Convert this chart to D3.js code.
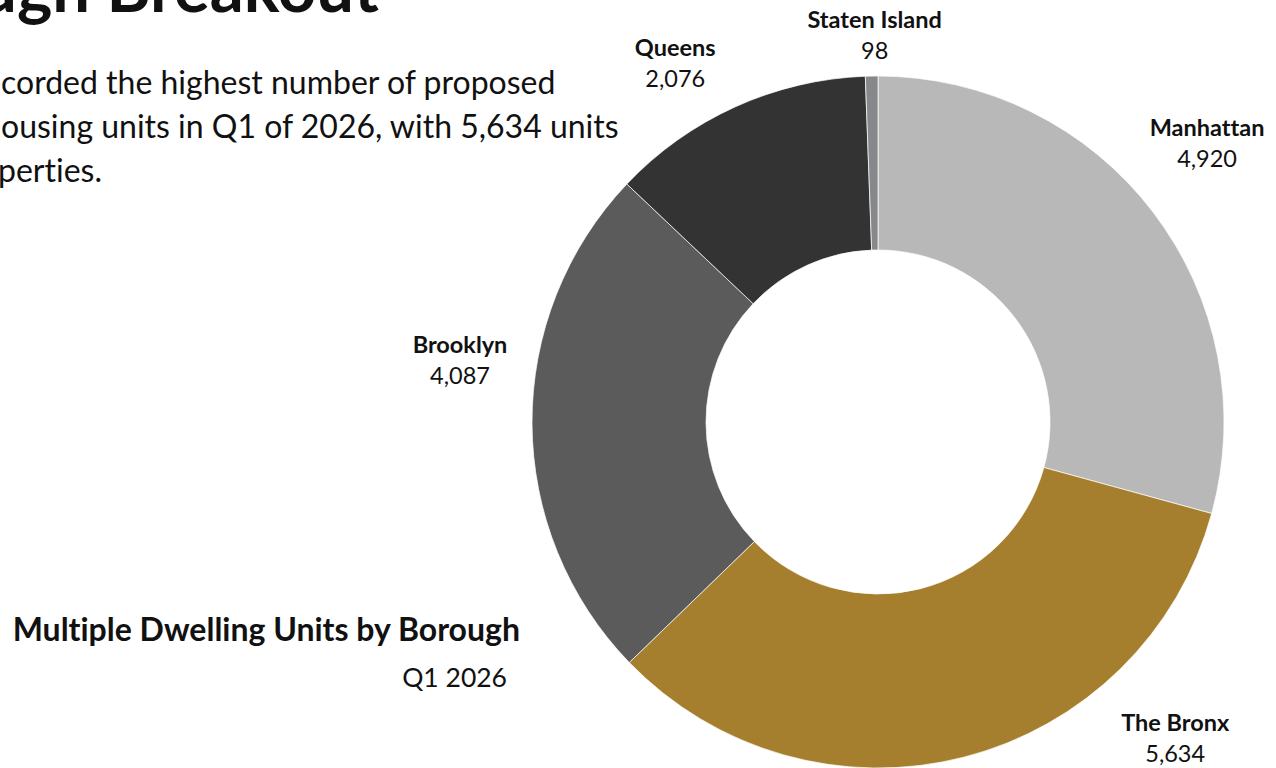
<!DOCTYPE html>
<html>
<head>
<meta charset="utf-8">
<script src="https://cdn.jsdelivr.net/npm/d3@7"></script>
<style>
  html, body { margin: 0; padding: 0; background: #ffffff; overflow: hidden; }
  svg { display: block; font-family: Lato, "Open Sans", sans-serif; font-variant-ligatures: none; }
</style>
</head>
<body>
<svg id="chart" width="1276" height="768"></svg>
<script>
// ---- data ----
const boroughs = ["Manhattan", "The Bronx", "Brooklyn", "Queens", "Staten Island"];
const units = [4920, 5634, 4087, 2076, 98];
const sliceColors = ["#b7b8b7", "#a67f2e", "#5b5b5b", "#333333", "#86888b"];
const pageTitle = "Borough Breakout";
const introLines = [
  ["The Bronx re", "corded the highest number of proposed"],
  ["multifamily h", "ousing units in Q1 of 2026, with 5,634 units"],
  ["across multiple pro", "perties."]
];
const chartTitle = "Multiple Dwelling Units by Borough";
const chartSubtitle = "Q1 2026";

// ---- layout ----
const svg = d3.select("#chart");
const cx = 878, cy = 422, outerR = 346, innerR = 172;
const labelR = 400;
// label nudges (dx, dy of name baseline) relative to outer-arc centroid
const labelNudge = {
  "Manhattan": [11, -43],
  "The Bronx": [198, -79],
  "Brooklyn": [-18, -71],
  "Queens": [-38, -1],
  "Staten Island": [4, 6]
};

const data = boroughs.map((b, i) => ({ name: b, value: units[i], color: sliceColors[i] }));
const pie = d3.pie().value(d => d.value).sort(null).startAngle(0).endAngle(2 * Math.PI);
const arcs = pie(data);
const arc = d3.arc().innerRadius(innerR).outerRadius(outerR);
const labelArc = d3.arc().innerRadius(labelR).outerRadius(labelR);

const g = svg.append("g").attr("transform", `translate(${cx},${cy})`);
g.selectAll("path.slice")
  .data(arcs)
  .join("path")
  .attr("class", "slice")
  .attr("d", arc)
  .attr("fill", d => d.data.color)
  .attr("stroke", "#ffffff")
  .attr("stroke-width", 0.7);

const fmt = d3.format(",");
const lab = g.selectAll("g.lab")
  .data(arcs)
  .join("g")
  .attr("class", "lab")
  .attr("transform", d => {
    const [x, y] = labelArc.centroid(d);
    const n = labelNudge[d.data.name];
    return `translate(${x + n[0]},${y + n[1]})`;
  });
lab.append("text")
  .attr("text-anchor", "middle")
  .attr("font-weight", 700)
  .attr("font-size", 23.5)
  .attr("fill", "#111111")
  .text(d => d.data.name);
lab.append("text")
  .attr("text-anchor", "middle")
  .attr("y", 31)
  .attr("font-size", 23.5)
  .attr("fill", "#111111")
  .text(d => fmt(d.data.value));

// ---- page title & intro (partially off-canvas on the left) ----
svg.append("text")
  .attr("x", 379)
  .attr("y", 12)
  .attr("text-anchor", "end")
  .attr("font-weight", 700)
  .attr("font-size", 67)
  .attr("fill", "#111111")
  .text(pageTitle);

const introStarts = [1, 1, -2];
const introBase = [94, 138, 182];
introLines.forEach((parts, i) => {
  const t = svg.append("text")
    .attr("y", introBase[i])
    .attr("font-size", 32)
    .attr("fill", "#111111");
  const pre = t.append("tspan").text(parts[0]);
  t.append("tspan").text(parts[1]);
  const w = pre.node().getComputedTextLength();
  t.attr("x", introStarts[i] - w);
});

// ---- chart title ----
svg.append("text")
  .attr("x", 520)
  .attr("y", 641)
  .attr("text-anchor", "end")
  .attr("font-weight", 700)
  .attr("font-size", 32)
  .attr("fill", "#111111")
  .text(chartTitle);
svg.append("text")
  .attr("x", 507)
  .attr("y", 687)
  .attr("text-anchor", "end")
  .attr("font-size", 26.5)
  .attr("fill", "#111111")
  .text(chartSubtitle);
</script>
</body>
</html>
